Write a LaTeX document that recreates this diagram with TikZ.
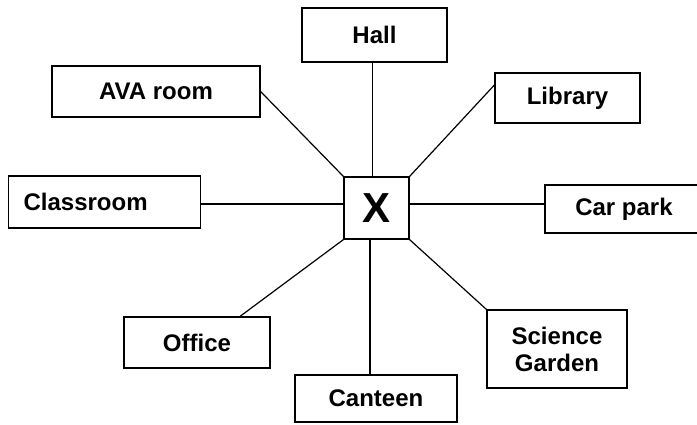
\documentclass[tikz,border=0pt]{standalone}
\usepackage{fontspec}
\setmainfont{Liberation Sans}
\begin{document}
\begin{tikzpicture}[x=1pt, y=-1pt, line width=1.2pt,
  room/.style={draw, rectangle, align=center, inner sep=0pt, font=\fontsize{24}{27}\selectfont\bfseries}]

\def\lenx{65pt}
\def\leny{62pt}

\useasboundingbox (0,0) rectangle (697,424);

\node[room, minimum width=\lenx, minimum height=\leny, font=\fontsize{42}{45}\selectfont\bfseries] (x) at (376.5,208) {X};

\node[room, minimum width=145pt, minimum height=54pt] (hall) at (374.5,35) {Hall};
\node[room, minimum width=208pt, minimum height=51pt] (ava-room) at (156,91.5) {AVA room};
\node[room, minimum width=145pt, minimum height=50pt] (library) at (567.5,98) {Library};
\node[room, anchor=west, align=left, inner xsep=15pt, text width=162pt, minimum height=52pt] (classroom) at (8,202) {Classroom};
\node[room, minimum width=158pt, minimum height=48pt] (car-park) at (624,209) {Car park};
\node[room, minimum width=146pt, minimum height=51pt] (office) at (197,342.5) {Office};
\node[room, minimum width=162pt, minimum height=47pt] (canteen) at (376,398.5) {Canteen};
\node[room, minimum width=140pt, minimum height=78pt] (science-garden) at (557,349) {Science\\Garden};

\coordinate (x-left) at ([yshift=4pt]x.west);
\coordinate (x-right) at ([yshift=4pt]x.east);

\draw ([xshift=-2pt]hall.south) -- ([xshift=-2pt]hall.south |- x.north);
\draw (x.north west) -- (ava-room.east);
\draw (x.north east) -- ([yshift=13pt]library.west);
\draw (x-left) -- (x-left -| classroom.east);
\draw (x-right) -- (x-right -| car-park.west);
\draw (x.south west) -- ([xshift=43pt]office.north);
\draw (x.south east) -- (science-garden.north west);
\draw ([xshift=-6pt]canteen.north) -- ([xshift=-6pt]canteen.north |- x.south);

\end{tikzpicture}
\end{document}
